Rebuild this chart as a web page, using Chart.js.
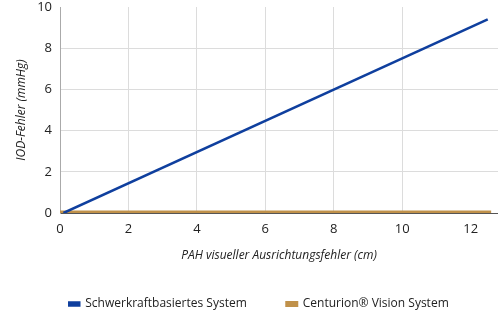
<!DOCTYPE html>
<html>
<head>
<meta charset="utf-8">
<script src="https://cdn.jsdelivr.net/npm/chart.js@4"></script>
<style>
  html, body { margin: 0; padding: 0; background: #fff; }
  #wrap { width: 498px; height: 323px; }
</style>
</head>
<body>
<div id="wrap"><canvas id="chart" width="498" height="323"></canvas></div>
<script>
const seriesNames = ['Schwerkraftbasiertes System', 'Centurion\u00AE Vision System'];
const gravityX = [0.1, 12.5];
const gravityY = [0, 9.4];
const centurionX = [0, 12.6];
const centurionY = [0.05, 0.05];
const xTitle = 'PAH visueller Ausrichtungsfehler (cm)';
const yTitle = 'IOD-Fehler (mmHg)';

const toPts = (xs, ys) => xs.map((x, i) => ({ x: x, y: ys[i] }));

Chart.defaults.font.family = '"Open Sans", sans-serif';
Chart.defaults.color = '#222';

// nudge the legend a bit right, like the original
const legendShift = {
    id: 'legendShift',
    afterLayout(chart) { if (chart.legend) chart.legend.left += 20; }
};

new Chart(document.getElementById('chart').getContext('2d'), {
    type: 'line',
    data: {
        datasets: [
            { label: seriesNames[0], data: toPts(gravityX, gravityY), borderColor: '#0f3f9e', backgroundColor: '#0f3f9e', borderWidth: 2.5, pointRadius: 0, fill: false },
            { label: seriesNames[1], data: toPts(centurionX, centurionY), borderColor: '#c0914a', backgroundColor: '#c0914a', borderWidth: 3, pointRadius: 0, fill: false }
        ]
    },
    plugins: [legendShift],
    options: {
        responsive: false, animation: false,
        layout: { padding: { left: 0, right: 0, top: 0, bottom: 3 } },
        plugins: {
            tooltip: { enabled: false },
            legend: {
                position: 'bottom',
                labels: { boxWidth: 10, boxHeight: 3, padding: 40, font: { size: 12 }, color: '#222' }
            }
        },
        scales: {
            x: {
                type: 'linear', min: 0, max: 12.8,
                ticks: { stepSize: 2, font: { size: 13 }, padding: 8, includeBounds: false },
                grid: { color: ctx => (ctx.tick && (ctx.tick.value === 0 || ctx.tick.value === 12)) ? 'rgba(0,0,0,0)' : '#dcdcdc', drawTicks: false },
                border: { color: '#555', width: 1 },
                title: { display: true, text: xTitle, font: { size: 12, style: 'italic' }, padding: { top: 9, bottom: -5 } },
                afterFit: s => { s.height = 45; }
            },
            y: {
                min: 0, max: 10,
                ticks: { stepSize: 2, font: { size: 13 }, padding: 8 },
                grid: { color: ctx => (ctx.tick && (ctx.tick.value === 10 || ctx.tick.value === 0)) ? 'rgba(0,0,0,0)' : '#dcdcdc', drawTicks: false },
                border: { color: '#aaa', width: 1 },
                title: { display: true, text: yTitle, font: { size: 12, style: 'italic' }, padding: { top: 14, bottom: 0 } },
                afterFit: s => { s.width = 60; s.paddingTop = 7; }
            }
        }
    }
});
</script>
</body>
</html>
